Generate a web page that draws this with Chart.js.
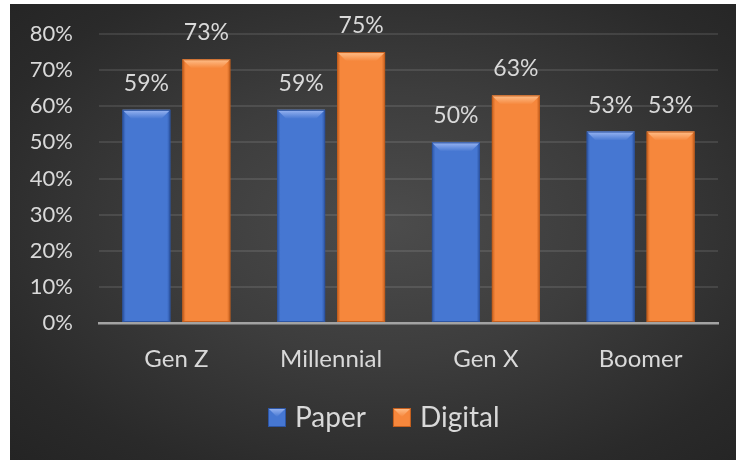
<!DOCTYPE html>
<html>
<head>
<meta charset="utf-8">
<script src="https://cdn.jsdelivr.net/npm/chart.js@4.4.1/dist/chart.umd.min.js"></script>
<style>
  html, body { margin: 0; padding: 0; background: #262626; overflow: hidden; }
  #panel {
    position: absolute; left: 10px; top: 4px; width: 726px; height: 456px;
    background: radial-gradient(ellipse at 52% 48%, #4c4c4c 0%, #3d3d3d 40%, #2a2a2a 80%, #242424 100%);
  }
  /* white page edge above and left of the chart panel */
  .edge { position: absolute; background: #fff; }
  #edgeTop { left: 0; top: 0; width: 100%; height: 4px; }
  #edgeLeft { left: 0; top: 0; width: 10px; height: 100%; }
  canvas { display: block; }
</style>
</head>
<body>
<div id="panel"><canvas id="chart" width="726" height="456"></canvas></div>
<div class="edge" id="edgeTop"></div>
<div class="edge" id="edgeLeft"></div>
<script>
// survey shares by generation
const categories = ["Gen Z", "Millennial", "Gen X", "Boomer"];
const paperShare = [0.59, 0.59, 0.50, 0.53];
const digitalShare = [0.73, 0.75, 0.63, 0.53];
const seriesNames = ["Paper", "Digital"];

const FONT = "Lato, 'Open Sans', sans-serif";
const TEXT = "#d9d9d9";

const palette = [
  { body: "#4677d2", light: "#9ab6f2", dark: "#2d55a3" },
  { body: "#f6873c", light: "#ffc08c", dark: "#c45f1e" }
];

const pct = v => Math.round(v * 100) + "%";

// bevelled column: light top facet, shaded sides
function bevel(ctx, left, top, right, bottom, col) {
  const b = Math.min(9, (bottom - top) / 2);
  ctx.save();
  let g = ctx.createLinearGradient(left, 0, right, 0);
  g.addColorStop(0, col.dark);
  g.addColorStop(0.07, col.body);
  g.addColorStop(0.93, col.body);
  g.addColorStop(1, col.dark);
  ctx.fillStyle = g;
  ctx.fillRect(left, top, right - left, bottom - top);

  g = ctx.createLinearGradient(0, top, 0, top + b);
  g.addColorStop(0, col.light);
  g.addColorStop(1, col.body);
  ctx.fillStyle = g;
  ctx.beginPath();
  ctx.moveTo(left, top);
  ctx.lineTo(right, top);
  ctx.lineTo(right - b, top + b);
  ctx.lineTo(left + b, top + b);
  ctx.closePath();
  ctx.fill();

  ctx.strokeStyle = col.dark;
  ctx.lineWidth = 1;
  ctx.strokeRect(left + 0.5, top + 0.5, right - left - 1, bottom - top - 1);
  ctx.restore();
}

const bevelBars = {
  id: "bevelBars",
  afterDatasetsDraw(chart) {
    const ctx = chart.ctx;
    chart.data.datasets.forEach((ds, i) => {
      chart.getDatasetMeta(i).data.forEach(bar => {
        const w = bar.width;
        bevel(ctx, bar.x - w / 2, bar.y, bar.x + w / 2, bar.base, palette[i]);
      });
    });
    // value labels
    ctx.save();
    ctx.font = "23px " + FONT;
    ctx.fillStyle = TEXT;
    ctx.textAlign = "center";
    ctx.textBaseline = "alphabetic";
    chart.data.datasets.forEach((ds, i) => {
      chart.getDatasetMeta(i).data.forEach((bar, j) => {
        ctx.fillText(pct(ds.data[j]), bar.x, bar.y - 19);
      });
    });
    ctx.restore();
  }
};

const legendRow = {
  id: "legendRow",
  afterDraw(chart) {
    const ctx = chart.ctx;
    ctx.save();
    ctx.font = "28px " + FONT;
    ctx.textBaseline = "alphabetic";
    let x = 258;
    const base = 423;
    chart.data.datasets.forEach((ds, i) => {
      bevel(ctx, x, base - 19, x + 18, base, palette[i]);
      ctx.fillStyle = TEXT;
      ctx.fillText(ds.label, x + 27, base);
      x += 27 + ctx.measureText(ds.label).width + 27;
    });
    ctx.restore();
  }
};

new Chart(document.getElementById("chart"), {
  type: "bar",
  data: {
    labels: categories,
    datasets: [
      { label: seriesNames[0], data: paperShare, backgroundColor: "rgba(0,0,0,0)" },
      { label: seriesNames[1], data: digitalShare, backgroundColor: "rgba(0,0,0,0)" }
    ]
  },
  options: {
    responsive: false,
    animation: false,
    layout: { padding: { top: 30, right: 18, left: 0, bottom: 0 } },
    datasets: { bar: { categoryPercentage: 0.775, barPercentage: 0.8 } },
    plugins: { legend: { display: false }, tooltip: { enabled: false } },
    scales: {
      x: {
        grid: { display: false },
        border: { display: true, color: "#a3a3a3", width: 2.5 },
        ticks: { color: TEXT, font: { family: FONT, size: 24 }, padding: 14 },
        afterFit: s => { s.height = 137; }
      },
      y: {
        min: 0, max: 0.8,
        grid: { color: "rgba(255,255,255,0.1)", lineWidth: 2, drawTicks: false },
        border: { display: false },
        ticks: { stepSize: 0.1, color: TEXT, font: { family: FONT, size: 22 }, padding: 26, callback: v => pct(v) },
        // fixed gutter; the tick padding should not push the plot down
        afterFit: s => { s.width = 89; s.paddingTop = 0; s.paddingBottom = 0; }
      }
    }
  },
  plugins: [bevelBars, legendRow]
});
</script>
</body>
</html>
